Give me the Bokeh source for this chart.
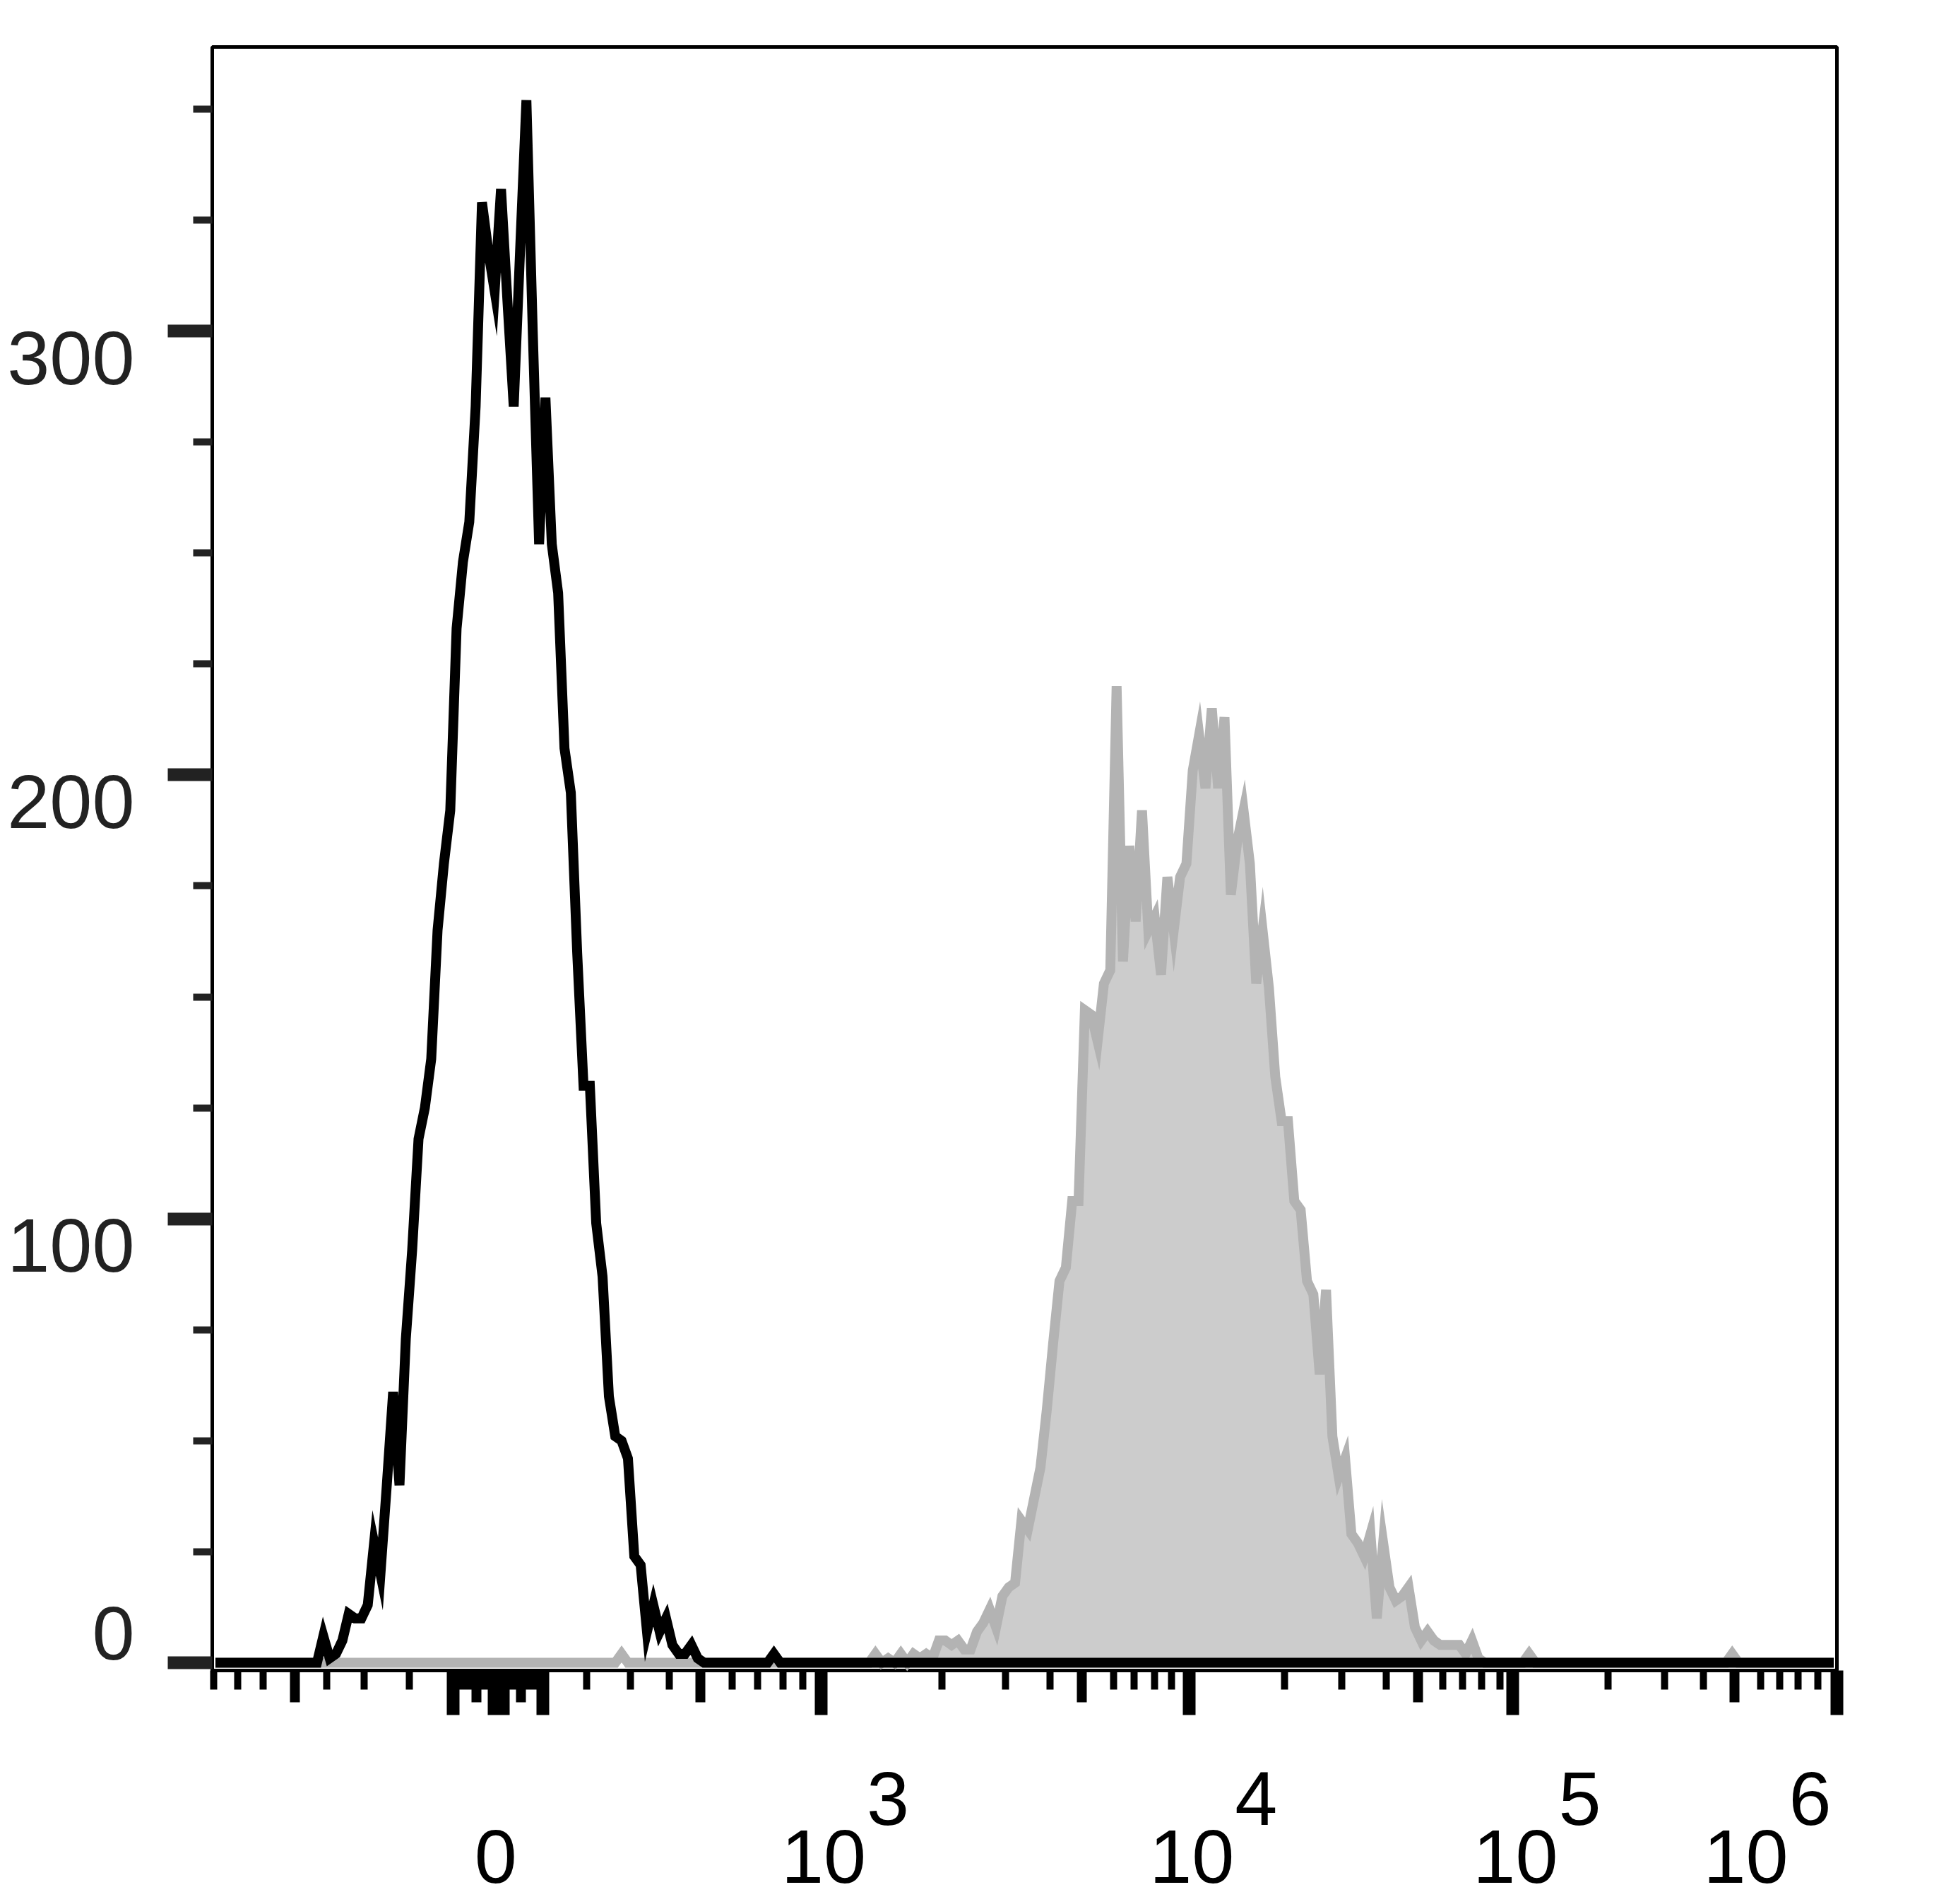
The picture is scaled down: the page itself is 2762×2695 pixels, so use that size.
from bokeh.plotting import figure
from bokeh.models import Range1d, LinearAxis, FixedTicker, Label
from bokeh.embed import file_html
from bokeh.resources import INLINE

# ---------------- data ----------------
n_channels = 256                      # display channels across the x axis

black_first_bin = 15
black_counts = [0, 0, 6, 1, 2, 5, 11, 10, 10, 13, 27, 20, 40, 61, 40, 73, 93, 118, 125, 136,
                165, 180, 192, 233, 248, 257, 283, 329, 318, 309, 332, 307, 283, 318, 352, 300,
                252, 285, 252, 241, 206, 196, 160, 130, 130, 99, 87, 60, 51, 50, 46, 24, 22, 7,
                13, 7, 10, 4, 2, 2, 4, 1, 0]
black_extra_bins = [88]
black_extra_counts = [2]

gray_first_bin = 100
gray_counts = [0, 0, 0, 0, 2, 0, 1, 0, 2, 0, 2, 1, 2, 1, 5, 5, 4, 5, 3, 3,
               7, 9, 12, 8, 15, 17, 18, 32, 30, 37, 44, 57, 72, 86, 89, 104, 104, 147, 146, 140,
               153, 156, 220, 158, 184, 167, 192, 165, 168, 155, 177, 165, 177, 180, 201, 209, 197, 215, 197, 213,
               173, 185, 192, 180, 153, 165, 152, 132, 122, 122, 104, 102, 86, 83, 65, 84, 51, 42, 46, 29,
               27, 24, 29, 10, 27, 17, 14, 15, 17, 8, 5, 7, 5, 4, 4, 4, 4, 2, 5, 1, 0]
gray_extra_bins = [64, 207, 239]
gray_extra_counts = [2, 2, 2]

y_major_ticks = [0, 100, 200, 300]
y_minor_ticks = [25, 50, 75, 125, 150, 175, 225, 250, 275, 325, 350]
y_tick_labels = ["0", "100", "200", "300"]

# x ticks in display-channel units (biexponential display)
x_major_ticks = [38.0, 44.4, 45.1, 45.81, 52.1, 95.9, 153.9, 204.9, 256.0]
x_mid_ticks = [13.0, 41.58, 48.63, 76.9, 137.0, 190.0, 239.9]
x_minor_ticks = [0.2, 4.0, 8.0, 18.0, 23.9, 31.1,
                 38.76, 39.46, 40.17, 40.87, 42.28, 42.99, 43.69,
                 46.51, 47.22, 47.92, 49.33, 50.04, 50.74, 51.45,
                 59.0, 65.9, 72.0, 81.9, 85.9, 89.9, 93.1,
                 115.0, 125.0, 132.0, 142.0, 145.3, 148.5, 151.2,
                 169.0, 178.0, 185.0, 193.9, 197.0, 200.0, 202.9,
                 219.9, 228.8, 235.0, 244.0, 247.0, 249.9, 253.0]
x_label_ticks = [45.1, 95.9, 153.9, 204.9, 256.0]
x_label_bases = ["0", "10", "10", "10", "10"]
x_label_exponents = ["", "3", "4", "5", "6"]

# ---------------- build series ----------------
def full_series(first, counts, extra_bins, extra_counts):
    vals = [0] * n_channels
    for i, c in enumerate(counts):
        vals[first + i] = c
    for b, c in zip(extra_bins, extra_counts):
        vals[b] = c
    return vals

xs = [i + 0.5 for i in range(n_channels)]
black = full_series(black_first_bin, black_counts, black_extra_bins, black_extra_counts)
gray = full_series(gray_first_bin, gray_counts, gray_extra_bins, gray_extra_counts)

# ---------------- geometry (canvas pixels) ----------------
W, H = 2756, 2690
BOX_L, BOX_R, BOX_T, BOX_B = 300, 2600, 66, 2364
Y_ZERO_PX = 2353
PPX = (BOX_R - BOX_L) / n_channels
PPY = 6.283
X_START, X_END = -BOX_L / PPX, (W - BOX_L) / PPX
Y_START, Y_END = (Y_ZERO_PX - H) / PPY, Y_ZERO_PX / PPY
Y0 = (Y_ZERO_PX - BOX_B) / PPY          # bottom of the box
Y1 = (Y_ZERO_PX - BOX_T) / PPY          # top of the box

FONT = "Liberation Sans"
FS = "108px"

p = figure(width=W, height=H,
           x_range=Range1d(X_START, X_END), y_range=Range1d(Y_START, Y_END),
           x_axis_location=None, y_axis_location=None,
           min_border=0, output_backend="svg", toolbar_location=None)
p.grid.visible = False
p.outline_line_color = None
p.background_fill_color = "white"
p.border_fill_color = "white"

# plot box
p.quad(left=0, right=n_channels, bottom=Y0, top=Y1,
       fill_color=None, line_color="black", line_width=5)

p.varea(x=xs, y1=[0] * n_channels, y2=gray, fill_color="#cccccc")
p.line(xs, gray, line_color="#b3b3b3", line_width=14, line_join="miter")
p.line(xs, black, line_color="black", line_width=14, line_join="miter")

# y axis, fixed on the box's left edge
yax = LinearAxis(ticker=FixedTicker(ticks=y_major_ticks, minor_ticks=y_minor_ticks),
                 fixed_location=0)
yax.axis_line_color = None
yax.major_tick_in = 0
yax.major_tick_out = 63
yax.major_tick_line_width = 18
yax.major_tick_line_color = "#222222"
yax.minor_tick_in = 0
yax.minor_tick_out = 27
yax.minor_tick_line_width = 10
yax.minor_tick_line_color = "#222222"
yax.major_label_text_color = None
p.add_layout(yax, "left")

# x axis: major + minor ticks, fixed on the box's bottom edge
xax = LinearAxis(ticker=FixedTicker(ticks=x_major_ticks, minor_ticks=x_minor_ticks),
                 fixed_location=Y0)
xax.axis_line_color = None
xax.major_tick_in = 0
xax.major_tick_out = 63
xax.major_tick_line_width = 18
xax.major_tick_line_color = "black"
xax.minor_tick_in = 0
xax.minor_tick_out = 27
xax.minor_tick_line_width = 10
xax.minor_tick_line_color = "black"
xax.major_label_text_color = None
p.add_layout(xax, "below")

# x axis: mid ticks
xmid = LinearAxis(ticker=FixedTicker(ticks=x_mid_ticks, minor_ticks=[]),
                  fixed_location=Y0)
xmid.axis_line_color = None
xmid.major_tick_in = 0
xmid.major_tick_out = 45
xmid.major_tick_line_width = 14
xmid.major_tick_line_color = "black"
xmid.minor_tick_line_color = None
xmid.major_label_text_color = None
p.add_layout(xmid, "below")

# y tick labels: below their tick, except the lowest one which sits above it
for v, txt in zip(y_major_ticks, y_tick_labels):
    p.add_layout(Label(x=0, y=v, x_offset=-110, y_offset=(42 if v == y_major_ticks[0] else -38),
                       text=txt, text_align="right", text_baseline="middle",
                       text_font=FONT, text_font_size=FS, text_color="#222222"))

# x tick labels (base and raised exponent)
box_w = BOX_R - BOX_L
for t, base, ex in zip(x_label_ticks, x_label_bases, x_label_exponents):
    if ex:
        shift = min(0, (box_w - 10) - (t * PPX + 123))
        p.add_layout(Label(x=t, y=Y0, x_offset=4 + shift, y_offset=-263, text=base,
                           text_align="center", text_baseline="middle",
                           text_font=FONT, text_font_size=FS, text_color="black"))
        p.add_layout(Label(x=t, y=Y0, x_offset=65 + shift, y_offset=-181, text=ex,
                           text_align="left", text_baseline="middle",
                           text_font=FONT, text_font_size=FS, text_color="black"))
    else:
        p.add_layout(Label(x=t, y=Y0, x_offset=-4, y_offset=-263, text=base,
                           text_align="center", text_baseline="middle",
                           text_font=FONT, text_font_size=FS, text_color="black"))

open("out.html", "w").write(file_html(p, INLINE))
